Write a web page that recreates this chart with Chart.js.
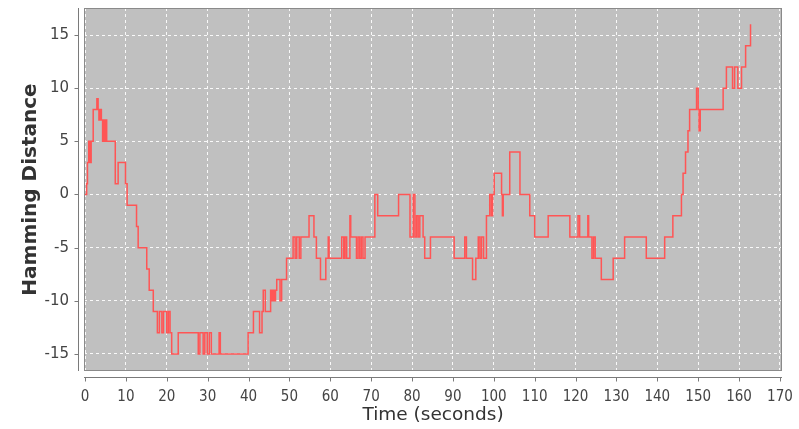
<!DOCTYPE html>
<html>
<head>
<meta charset="utf-8">
<script src="https://cdn.jsdelivr.net/npm/chart.js@4"></script>
<style>
  html, body { margin: 0; padding: 0; background: #fff; }
  canvas { display: block; }
</style>
</head>
<body>
<canvas id="chart" width="799" height="429"></canvas>
<script>
// step data: time (s) and hamming distance from that time on
const times = [
  0, 0.4, 0.6, 0.9, 1.2, 1.5, 2.0, 2.9, 3.2, 3.4, 3.7, 4.0, 4.3, 4.6, 4.9, 5.1, 5.3, 7.4, 8.1, 9.9,
  10.3, 12.6, 13.0, 15.1, 15.7, 16.7, 17.7, 18.2, 18.8, 19.2, 20.0, 20.4, 20.8, 21.2, 22.8, 27.7,
  28.1, 28.9, 29.3, 29.9, 30.4, 30.9, 32.8, 33.1, 39.9, 41.2, 42.7, 43.3, 43.6, 44.1, 45.4, 45.7,
  46.0, 46.3, 46.6, 46.9, 47.7, 48.1, 49.3, 50.9, 51.4, 51.8, 52.4, 52.8, 54.8, 56.0, 56.6, 57.6,
  58.9, 59.5, 59.7, 62.8, 63.3, 63.6, 64.0, 64.8, 65.0, 66.4, 66.8, 67.2, 67.6, 68.0, 68.5, 70.9,
  71.6, 76.7, 79.5, 80.3, 80.7, 81.1, 81.5, 81.9, 82.7, 83.1, 84.5, 90.3, 92.9, 93.3, 94.8, 95.6,
  96.2, 96.6, 97.0, 97.5, 98.2, 99.0, 99.4, 99.7, 100.1, 101.9, 102.1, 102.3, 103.9, 106.4, 108.8,
  110.0, 113.3, 118.6, 120.6, 121.0, 123.0, 123.2, 124.0, 124.4, 124.8, 126.3, 129.2, 132.0, 137.3,
  141.8, 143.8, 145.9, 146.3, 146.9, 147.5, 147.9, 149.6, 150.0, 150.2, 150.5, 156.1, 156.9, 158.4,
  158.9, 159.7, 160.6, 161.6, 162.8
];
const distances = [
  0, 1, 3, 5, 3, 5, 8, 9, 8, 7, 8, 7, 5, 7, 5, 7, 5, 1, 3, 1,
  -1, -3, -5, -7, -9, -11, -13, -11, -13, -11, -13, -11, -13, -15, -13, -15,
  -13, -15, -13, -15, -13, -15, -13, -15, -13, -11, -13, -11, -9, -11, -9, -10,
  -9, -10, -9, -8, -10, -8, -6, -4, -6, -4, -6, -4, -2, -4, -6, -8,
  -6, -4, -6, -4, -6, -4, -6, -2, -4, -6, -4, -6, -4, -6, -4, 0,
  -2, 0, -4, 0, -4, -2, -4, -2, -4, -6, -4, -6, -4, -6, -8, -6,
  -4, -6, -4, -6, -2, 0, -2, 0, 2, 0, -2, 0, 4, 0, -2,
  -4, -2, -4, -2, -4, -2, -4, -6, -4, -6, -8, -6, -4, -6,
  -4, -2, 0, 2, 4, 6, 8, 10, 8, 6, 8, 10, 12, 10,
  12, 10, 12, 14, 16
];
const xTicks = [0, 10, 20, 30, 40, 50, 60, 70, 80, 90, 100, 110, 120, 130, 140, 150, 160, 170];
const yTicks = [-15, -10, -5, 0, 5, 10, 15];

const points = times.map((t, i) => ({ x: t, y: distances[i] }));

// gray plot background, jfreechart style
const plotBg = {
  id: 'plotBg',
  beforeDraw(chart) {
    const { ctx, chartArea: a } = chart;
    ctx.save();
    ctx.fillStyle = '#ffffff';
    ctx.fillRect(0, 0, chart.width, chart.height);
    ctx.fillStyle = '#c0c0c0';
    ctx.fillRect(a.left, a.top, a.right - a.left, a.bottom - a.top);
    ctx.restore();
  }
};

// plot outline plus the offset axis lines and tick marks
const axisLines = {
  id: 'axisLines',
  afterDraw(chart) {
    const { ctx, chartArea: a, scales } = chart;
    ctx.save();
    ctx.strokeStyle = '#8a8a8a';
    ctx.lineWidth = 1;
    ctx.strokeRect(a.left + 0.5, a.top + 0.5, a.right - a.left - 1, a.bottom - a.top - 1);

    ctx.strokeStyle = '#7a7a7a';
    const ax = Math.round(a.left) - 6 + 0.5;
    ctx.beginPath();
    ctx.moveTo(ax, a.top);
    ctx.lineTo(ax, a.bottom);
    scales.y.ticks.forEach(t => {
      const py = Math.round(scales.y.getPixelForValue(t.value)) + 0.5;
      ctx.moveTo(ax - 4, py);
      ctx.lineTo(ax, py);
    });
    const ay = Math.round(a.bottom) + 6 + 0.5;
    ctx.moveTo(a.left, ay);
    ctx.lineTo(a.right, ay);
    scales.x.ticks.forEach(t => {
      const px = Math.round(scales.x.getPixelForValue(t.value)) + 0.5;
      ctx.moveTo(px, ay);
      ctx.lineTo(px, ay + 4);
    });
    ctx.stroke();
    ctx.restore();
  }
};

new Chart(document.getElementById('chart'), {
  type: 'line',
  data: {
    datasets: [{
      data: points,
      stepped: true,
      borderColor: '#ff5555',
      borderWidth: 1.5,
      pointRadius: 0,
      fill: false
    }]
  },
  options: {
    responsive: false,
    animation: false,
    layout: { padding: { top: 8, right: 17, bottom: 0, left: 0 } },
    plugins: { legend: { display: false }, tooltip: { enabled: false } },
    scales: {
      x: {
        type: 'linear',
        min: -0.25,
        max: 170.5,
        afterBuildTicks: s => { s.ticks = xTicks.map(v => ({ value: v })); },
        afterFit: s => { s.height = 58; s.paddingLeft = 0; s.paddingRight = 0; },
        grid: { color: 'rgba(255,255,255,0.9)', lineWidth: 1, drawTicks: false },
        border: { display: false, dash: [3, 3] },
        ticks: {
          padding: 17,
          maxRotation: 0,
          autoSkip: false,
          color: '#444',
          font: { family: 'DejaVu Sans Condensed, DejaVu Sans', size: 15 }
        },
        title: {
          display: true,
          text: 'Time (seconds)',
          color: '#333',
          padding: { top: 0, bottom: 3 },
          font: { family: 'DejaVu Sans', size: 18.5 }
        }
      },
      y: {
        type: 'linear',
        min: -16.6,
        max: 17.54,
        afterBuildTicks: s => { s.ticks = yTicks.map(v => ({ value: v })); },
        afterFit: s => { s.width = 84; s.paddingTop = 0; s.paddingBottom = 0; },
        grid: { color: 'rgba(255,255,255,0.9)', lineWidth: 1, drawTicks: false },
        border: { display: false, dash: [3, 3] },
        ticks: {
          padding: 15,
          color: '#444',
          font: { family: 'DejaVu Sans', size: 15 }
        },
        title: {
          display: true,
          text: 'Hamming Distance',
          color: '#333',
          padding: { top: 19, bottom: 0 },
          font: { family: 'DejaVu Sans', size: 20, weight: 'bold' }
        }
      }
    }
  },
  plugins: [plotBg, axisLines]
});
</script>
</body>
</html>
